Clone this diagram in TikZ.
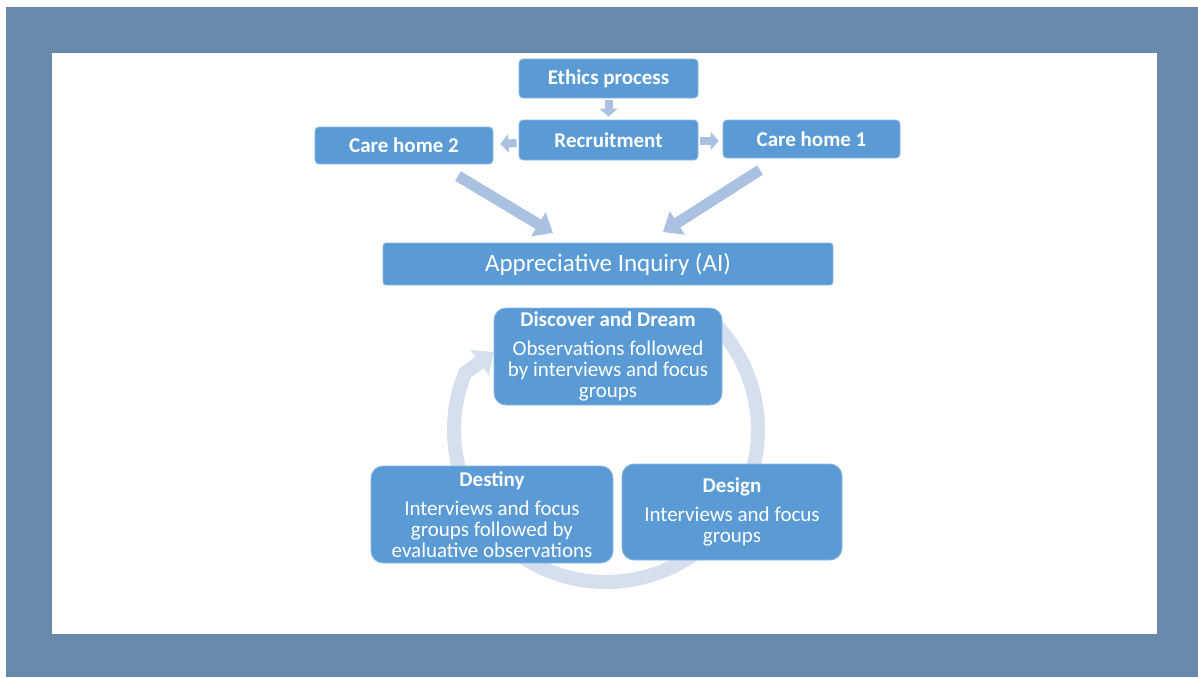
\documentclass[tikz,border=0pt]{standalone}
\usepackage{fontspec}
\setmainfont{Carlito}
\usetikzlibrary{arrows.meta}
\definecolor{framebg}{HTML}{6888AC}
\definecolor{boxblue}{HTML}{5B9BD5}
\definecolor{boxedge}{HTML}{8DB8E2}
\definecolor{arrowblue}{HTML}{ABC1E1}
\definecolor{ringblue}{HTML}{D5DFED}
\begin{document}
\begin{tikzpicture}[x=1pt,y=-1pt,
  topbox/.style={fill=boxblue, draw=boxedge, line width=0.8pt, rounded corners=4pt,
    text=white, inner sep=0pt, font=\fontsize{21}{22}\selectfont\bfseries},
  cyclebox/.style={fill=boxblue, draw=boxedge, line width=0.8pt, rounded corners=12pt,
    text=white, align=center, inner sep=0pt, font=\fontsize{21}{21}\selectfont},
  aibox/.style={fill=boxblue, draw=boxedge, line width=0.8pt, rounded corners=3pt,
    text=white, inner sep=0pt, font=\fontsize{25}{26}\selectfont},
  smallarrow/.style={draw=arrowblue, line width=8pt, -{Triangle[width=18pt,length=8pt]}},
  bigarrow/.style={draw=arrowblue, line width=11pt, -{Triangle[width=27pt,length=17pt]}},
  ringarrow/.style={draw=ringblue, line width=14pt, -{Triangle[width=30pt,length=18pt]}}
]
\useasboundingbox (0,0) rectangle (1198,677);
% page and frame
\fill[white] (0,0) rectangle (1198,677);
\fill[framebg] (6,7) rectangle (1198,677);
\fill[white] (52,53) rectangle (1157,634);

% cycle ring behind the phase boxes
\coordinate (ringc) at (606,430);
\coordinate (ringend) at (494,352);
\draw[ringarrow] (ringc) ++(-45:152) arc[start angle=-45, end angle=202, radius=152] -- (ringend);

% top flow
\node[topbox, minimum width=179pt, minimum height=39pt] (ethics) at (608.5,78.5) {Ethics process};
\node[topbox, minimum width=179pt, minimum height=40pt] (recruit) at (608.5,140) {Recruitment};
\node[topbox, minimum width=178pt, minimum height=37pt] (ch2) at (404,145.5) {Care home 2};
\node[topbox, minimum width=177pt, minimum height=38pt] (ch1) at (811.5,139) {Care home 1};
\node[aibox, minimum width=450pt, minimum height=42pt] (ai) at (608,264) {Appreciative Inquiry (AI)};

\draw[smallarrow] ([yshift=-2pt]ethics.south) -- ([yshift=3pt]recruit.north);
\draw[smallarrow] ([xshift=-2pt,yshift=-3pt]recruit.west) -- ([xshift=7pt,yshift=1.5pt]ch2.east);
\draw[smallarrow] ([xshift=2pt,yshift=-1pt]recruit.east) -- ([xshift=-4pt,yshift=-2pt]ch1.west);

\coordinate (ch2out) at (458,176);
\coordinate (ch1out) at (760,170);
\coordinate (aiinL) at (553,233);
\coordinate (aiinR) at (663,232);
\draw[bigarrow] (ch2out) -- (aiinL);
\draw[bigarrow] (ch1out) -- (aiinR);

% phase boxes
\node[cyclebox, minimum width=228pt, minimum height=97pt] (discover) at (608,356.5)
  {\textbf{Discover and Dream}\\[8pt]Observations followed\\by interviews and focus\\groups};
\node[cyclebox, minimum width=242pt, minimum height=97pt] (destiny) at (492,514.5)
  {\textbf{Destiny}\\[8pt]Interviews and focus\\groups followed by\\evaluative observations};
\node[cyclebox, minimum width=220pt, minimum height=96pt] (design) at (732,512)
  {\textbf{Design}\\[8pt]Interviews and focus\\groups};
\end{tikzpicture}
\end{document}
